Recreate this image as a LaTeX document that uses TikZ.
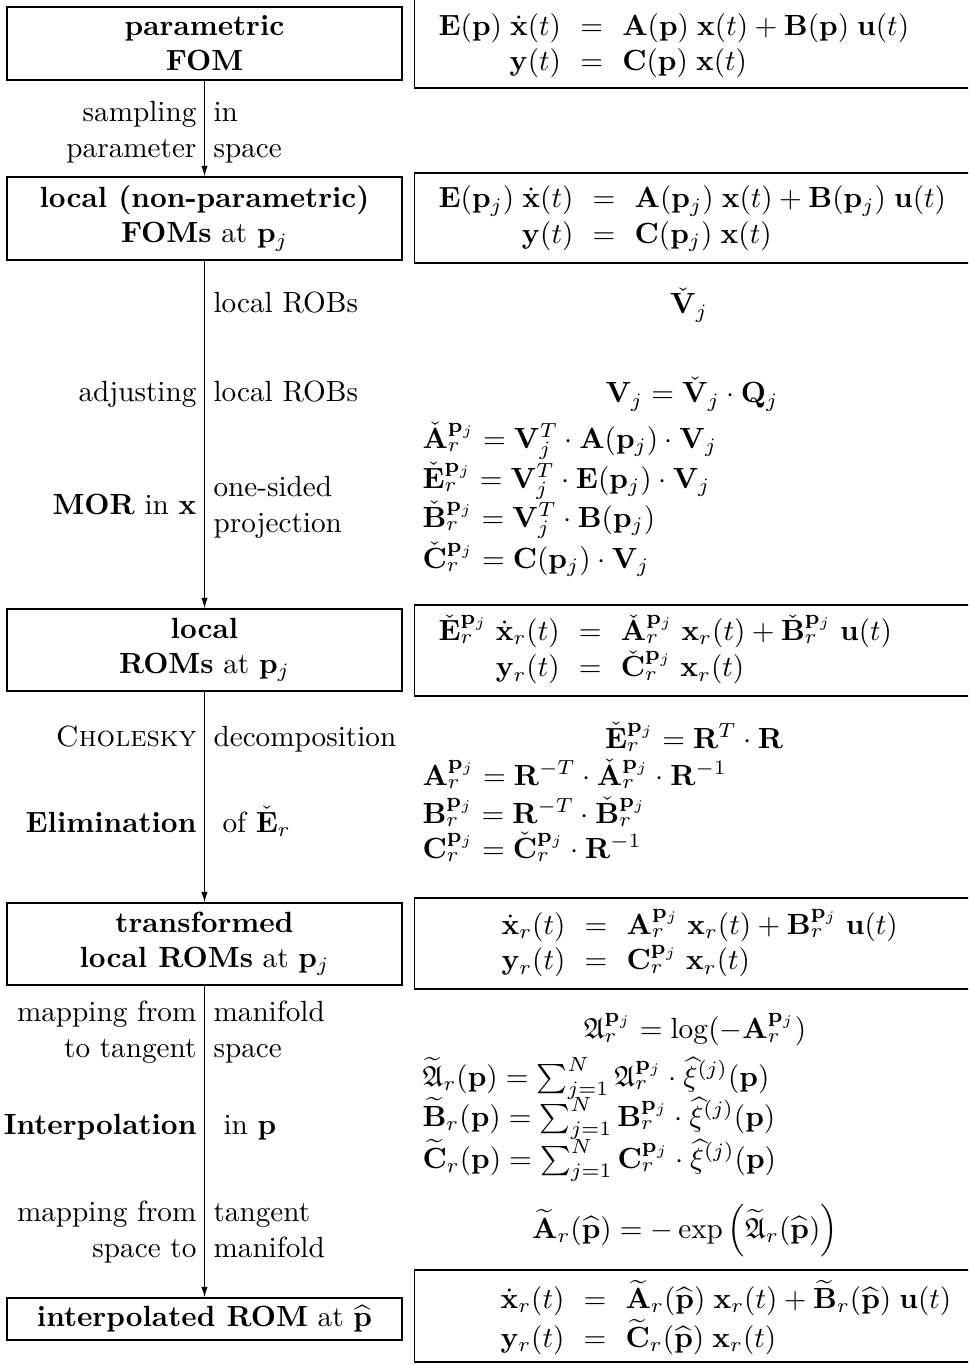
\documentclass[tikz,border=0pt]{standalone}
\usepackage{amsmath,amssymb}
\usetikzlibrary{arrows.meta}
\tikzset{
  x=0.3425pt, y=-0.3425pt,
  lbox/.style={draw, line width=0.5pt, align=center, minimum width={395*0.3425pt}, inner sep=0pt},
  rbox/.style={draw, line width=0.5pt, anchor=west, minimum width={576*0.3425pt}, inner sep=0pt},
  eqn/.style={anchor=west, inner sep=0pt},
  lab/.style={anchor=mid east, inner sep=0pt},
  rab/.style={anchor=mid west, inner sep=0pt},
  frm/.style={inner sep=0pt},
  lst/.style={anchor=mid west, inner sep=0pt},
  arr/.style={line width=0.4pt, -{Latex[length=3.6pt,width=2.2pt]}},
}
\newcommand{\mbf}[1]{\mathbf{#1}}
\newcommand{\pj}{\mathbf{p}_j}
\newcommand{\eqsys}[4]{$\begin{array}{@{}r@{\hspace{6.6pt}}c@{\hspace{6.6pt}}l@{}}#1&{=}&#2\\#3&{=}&#4\end{array}$}
\begin{document}
\begin{tikzpicture}
\clip (0,0) rectangle (968,1365);
\useasboundingbox (0,0) rectangle (968,1365);
% left boxes
\node[lbox, minimum height={73*0.3425pt}] (b1) at (204.5,43.5) {\textbf{parametric}\\\textbf{FOM}};
\node[lbox, minimum height={83*0.3425pt}] (b2) at (204.5,218.5) {\textbf{local (non-parametric)}\\\textbf{FOMs} at $\pj$};
\node[lbox, minimum height={82*0.3425pt}] (b3) at (204.5,650) {\textbf{local}\\\textbf{ROMs} at $\pj$};
\node[lbox, minimum height={82*0.3425pt}] (b4) at (204.5,944) {\textbf{transformed}\\\textbf{local ROMs} at $\pj$};
\node[lbox, minimum height={42*0.3425pt}] (b5) at (204.5,1319) {\textbf{interpolated ROM} at $\widehat{\mbf{p}}$};
% arrows
\draw[arr] (b1) -- (b2);
\draw[arr] (b2) -- (b3);
\draw[arr] (b3) -- (b4);
\draw[arr] (b4) -- (b5);
% right boxes
\node[rbox, minimum height={90*0.3425pt}] (r1) at (414,43) {};
\node[rbox, minimum height={90*0.3425pt}] (r2) at (414,218) {};
\node[rbox, minimum height={91*0.3425pt}] (r3) at (414,650.5) {};
\node[rbox, minimum height={91*0.3425pt}] (r4) at (414,943.5) {};
\node[rbox, minimum height={92*0.3425pt}] (r5) at (414,1316) {};
\node[eqn] (e1) at (438,46) {\eqsys{\mbf{E}(\mbf{p})\;\dot{\mbf{x}}(t)}{\mbf{A}(\mbf{p})\;\mbf{x}(t)+\mbf{B}(\mbf{p})\;\mbf{u}(t)}{\mbf{y}(t)}{\mbf{C}(\mbf{p})\;\mbf{x}(t)}};
\node[eqn] (e2) at (438,218.5) {\eqsys{\mbf{E}(\pj)\;\dot{\mbf{x}}(t)}{\mbf{A}(\pj)\;\mbf{x}(t)+\mbf{B}(\pj)\;\mbf{u}(t)}{\mbf{y}(t)}{\mbf{C}(\pj)\;\mbf{x}(t)}};
\node[eqn] (e3) at (438,651) {\eqsys{\check{\mbf{E}}_r^{\pj}\;\dot{\mbf{x}}_r(t)}{\check{\mbf{A}}_r^{\pj}\;\mbf{x}_r(t)+\check{\mbf{B}}_r^{\pj}\;\mbf{u}(t)}{\mbf{y}_r(t)}{\check{\mbf{C}}_r^{\pj}\;\mbf{x}_r(t)}};
\node[eqn] (e4) at (501,945) {\eqsys{\dot{\mbf{x}}_r(t)}{\mbf{A}_r^{\pj}\;\mbf{x}_r(t)+\mbf{B}_r^{\pj}\;\mbf{u}(t)}{\mbf{y}_r(t)}{\mbf{C}_r^{\pj}\;\mbf{x}_r(t)}};
\node[eqn] (e5) at (500,1319) {\eqsys{\dot{\mbf{x}}_r(t)}{\widetilde{\mbf{A}}_r(\widehat{\mbf{p}})\;\mbf{x}_r(t)+\widetilde{\mbf{B}}_r(\widehat{\mbf{p}})\;\mbf{u}(t)}{\mbf{y}_r(t)}{\widetilde{\mbf{C}}_r(\widehat{\mbf{p}})\;\mbf{x}_r(t)}};
% labels
\node[lab] (l1) at (197,115) {sampling};
\node[lab] (l2) at (197,151) {parameter};
\node[rab] (m1) at (213,115) {in};
\node[rab] (m2) at (213,151) {space};
\node[rab] (m3) at (213,306) {local ROBs};
\node[lab] (l4) at (197,395) {adjusting};
\node[rab] (m4) at (213,395) {local ROBs};
\node[lab] (l5) at (197,508) {\textbf{MOR} in $\mbf{x}$};
\node[rab] (m5) at (213,490) {one-sided};
\node[rab] (m6) at (213,526) {projection};
\node[lab] (l7) at (197,740) {\textsc{Cholesky}};
\node[rab] (m7) at (213,740) {decomposition};
\node[lab] (l8) at (197,826) {\textbf{Elimination}};
\node[rab] (m8) at (222,826) {of $\check{\mbf{E}}_r$};
\node[lab] (l9) at (197,1015) {mapping from};
\node[lab] (l10) at (197,1051) {to tangent};
\node[rab] (m9) at (213,1015) {manifold};
\node[rab] (m10) at (213,1051) {space};
\node[lab] (l11) at (197,1128) {\textbf{Interpolation}};
\node[rab] (m11) at (223,1128) {in $\mbf{p}$};
\node[lab] (l12) at (197,1215) {mapping from};
\node[lab] (l13) at (197,1251) {space to};
\node[rab] (m12) at (213,1215) {tangent};
\node[rab] (m13) at (213,1251) {manifold};
% formulas
\node[frm] (f1) at (689,305) {$\check{\mbf{V}}_j$};
\node[frm] (f2) at (692,394) {$\mbf{V}_j=\check{\mbf{V}}_j\cdot\mbf{Q}_j$};
\node[lst] (f3) at (422,442) {$\check{\mbf{A}}_r^{\pj}=\mbf{V}_j^T\cdot\mbf{A}(\pj)\cdot\mbf{V}_j$};
\node[lst] (f4) at (422,482) {$\check{\mbf{E}}_r^{\pj}=\mbf{V}_j^T\cdot\mbf{E}(\pj)\cdot\mbf{V}_j$};
\node[lst] (f5) at (422,521) {$\check{\mbf{B}}_r^{\pj}=\mbf{V}_j^T\cdot\mbf{B}(\pj)$};
\node[lst] (f6) at (422,562) {$\check{\mbf{C}}_r^{\pj}=\mbf{C}(\pj)\cdot\mbf{V}_j$};
\node[frm] (f7) at (694,737) {$\check{\mbf{E}}_r^{\pj}=\mbf{R}^T\cdot\mbf{R}$};
\node[lst] (f8) at (422,779) {$\mbf{A}_r^{\pj}=\mbf{R}^{-T}\cdot\check{\mbf{A}}_r^{\pj}\cdot\mbf{R}^{-1}$};
\node[lst] (f9) at (422,817) {$\mbf{B}_r^{\pj}=\mbf{R}^{-T}\cdot\check{\mbf{B}}_r^{\pj}$};
\node[lst] (f10) at (422,852) {$\mbf{C}_r^{\pj}=\check{\mbf{C}}_r^{\pj}\cdot\mbf{R}^{-1}$};
\node[frm] (f11) at (695,1030) {$\mathfrak{A}_r^{\pj}=\log(-\mbf{A}_r^{\pj})$};
\node[lst] (f12) at (422,1080) {$\widetilde{\mathfrak{A}}_r(\mbf{p})=\sum_{j=1}^N\mathfrak{A}_r^{\pj}\cdot\widehat{\xi}^{(j)}(\mbf{p})$};
\node[lst] (f13) at (422,1120) {$\widetilde{\mbf{B}}_r(\mbf{p})=\sum_{j=1}^N\mbf{B}_r^{\pj}\cdot\widehat{\xi}^{(j)}(\mbf{p})$};
\node[lst] (f14) at (422,1162) {$\widetilde{\mbf{C}}_r(\mbf{p})=\sum_{j=1}^N\mbf{C}_r^{\pj}\cdot\widehat{\xi}^{(j)}(\mbf{p})$};
\node[frm] (f15) at (685,1231) {$\widetilde{\mbf{A}}_r(\widehat{\mbf{p}})=-\exp\left(\widetilde{\mathfrak{A}}_r(\widehat{\mbf{p}})\right)$};
\end{tikzpicture}
\end{document}
